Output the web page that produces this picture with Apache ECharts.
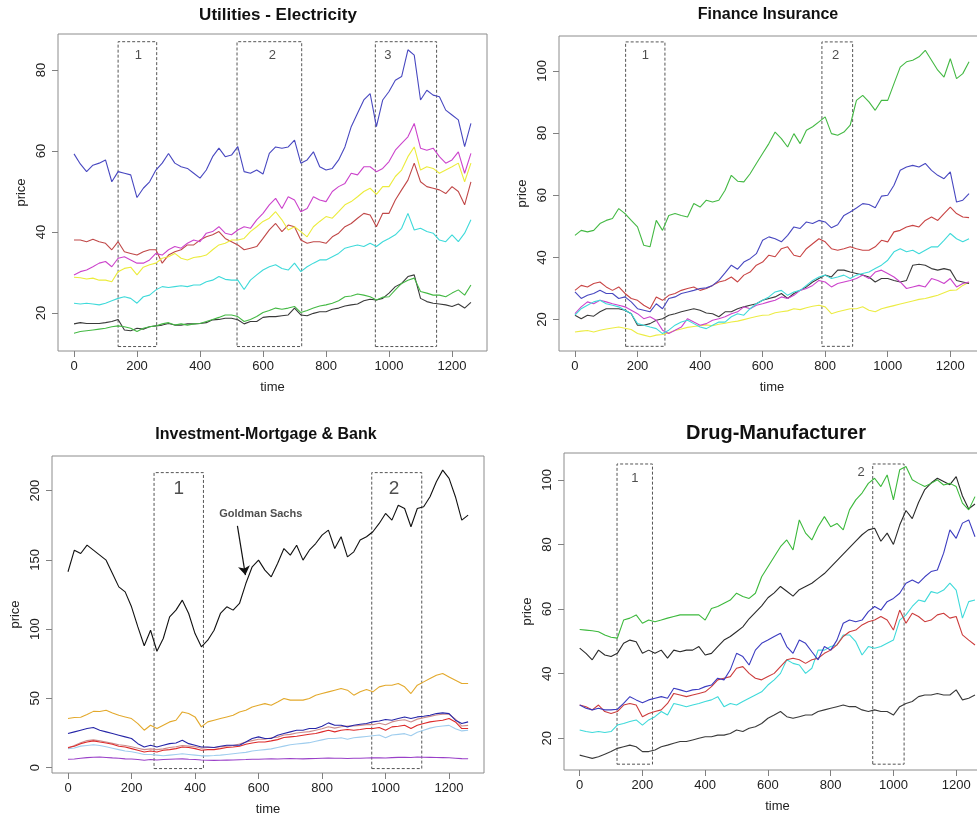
<!DOCTYPE html>
<html>
<head>
<meta charset="utf-8">
<script src="https://cdn.jsdelivr.net/npm/echarts/dist/echarts.min.js"></script>
<style>
html, body { margin: 0; padding: 0; background: #fff; }
#chart { width: 977px; height: 818px; }
</style>
</head>
<body>
<div id="chart"></div>
<script>
// Trading-day index (sampled every 20 days)
const time = [0,20,40,60,80,100,120,140,160,180,200,220,240,260,280,300,320,340,360,380,400,420,440,460,480,500,520,540,560,580,600,620,640,660,680,700,720,740,760,780,800,820,840,860,880,900,920,940,960,980,1000,1020,1040,1060,1080,1100,1120,1140,1160,1180,1200,1220,1240,1260];

const timeTicks = [0, 200, 400, 600, 800, 1000, 1200];

// ---- Utilities - Electricity ----
const utilTicks = [20, 40, 60, 80];
const utilBlue = [59.3,56.8,54.9,56.5,57,57.8,52.4,54.9,54.5,54.1,48.5,50.8,52.4,55.3,57,59.4,57,56.1,55.7,54.5,53.3,55.3,58.6,60.7,58.6,59,61.1,54.9,54.5,55.3,54.3,59.4,61,60.7,61,62.7,57,57.8,59.8,56.1,55.3,55.7,57.8,61,66,69.3,72.6,74.2,66,72.6,74.7,77.5,78.4,85,83.7,72.6,75,73.8,73.4,70.1,68.9,67.7,61.1,66.8];
const utilMagenta = [29.4,30.2,30.6,31.4,32.3,32.7,31.4,33.5,33.9,33.1,32.3,32.3,33.1,34.7,34.3,35.6,36.4,36,37.2,38,37.6,39.7,40.1,41.3,39.7,39.3,40.5,41.3,40.9,43,44.6,46.7,48.3,45.8,48.7,47.9,45,45.8,48.7,47.9,47.5,50,51.2,52,54.5,54.1,56.1,56.1,54.9,55.7,57.4,60.2,61.9,63.5,66.8,60.7,60.2,60.7,58.6,57,57.8,59.8,54.5,59.4];
const utilYellow = [28.8,28.7,28.4,28.6,28.1,28.1,27.7,30.2,31,31.3,29.4,31.3,31.9,32.3,33.5,33.9,34.7,33.5,33.1,33.7,33.9,34.3,35.6,36.8,37.2,38,38,38.4,40.1,41.3,42.6,43.4,45,43,40.5,41.3,40.1,38.8,41.3,42.6,43.8,43.4,45,46.7,47.5,48.7,50,50.8,49.3,51.2,51.2,53.7,55.3,58.6,61,55.3,56.1,55.7,54.5,55.3,56.1,57,52.4,57];
const utilRed = [38,38,37.6,38.2,37.6,37.2,35.6,37.6,35.1,34.7,34.3,35.1,35.6,35.6,32.3,34.3,35.1,35.6,36.8,36.8,38,38.8,39.3,40.1,38.4,37.6,36.8,35.6,36,36.4,38.4,40.5,42.1,40.1,41.7,41.3,38,37.2,37.6,37.6,37.2,38.8,39.7,41.3,42.1,43.4,44.6,44.2,41.3,44.6,44.6,47.9,50.4,52.8,57,52.4,51.2,50.8,50.4,49.5,51.2,50,46.7,52.4];
const utilCyan = [22.4,22.2,22.4,22.2,22,22.4,23,23.6,24,23.6,22.4,24,24.4,25.7,26.5,26.3,26.5,26.7,26.5,26.9,26.9,27.7,28.1,29,28.3,28.1,28.1,25.8,28.1,29.4,30.6,31.4,31.9,31,30.6,32.3,30.2,31.4,32.3,33.1,33.1,33.9,34.7,36,36.4,36.8,36.4,37.2,36.4,37.6,38.4,39.3,40.9,44.6,40.5,40.9,40.1,39.7,38,37.6,39.3,37.6,39.7,43];
const utilGreen = [15,15.4,15.6,15.8,16,16.2,16.6,16.8,16.6,16.2,15.4,16.2,16.6,16.8,17.3,17.6,17,17.3,17,17.3,17.4,17.9,18.4,18.9,19.5,19.5,19.1,17.9,18.4,19.1,20.1,20.6,21.2,20.9,21.2,21.6,20.1,20.6,21.2,21.7,22,22.4,23,24,24.2,24.7,24.4,24,23.2,23.9,24,25.7,27.3,28.1,28.6,25.3,24.9,24.4,24.4,24,24.9,25.7,24.4,26.9];
const utilBlack = [17.3,17.6,17.4,17.4,17.4,17.6,17.9,18.4,15.8,15.6,16.2,16,16.6,16.8,17,17.4,17,17,17.3,17.3,17.4,17.6,18.3,18.4,18.7,18.7,18.3,17.3,17.9,17.9,18.9,19.1,19.1,19.3,19.5,21.2,19.5,19.3,19.9,20.3,20.3,20.9,21.2,21.7,22,22.2,23,23.4,23.2,23.6,24.9,26.5,27.3,29,29.4,23.6,22.8,22.4,22.2,22,21.6,22.2,21.2,22.6];
const utilWindows = [[140, 11.7, 262.5, 87], [517.5, 11.7, 722.8, 87], [956.6, 11.7, 1151, 87]];
const utilWindowLabels = [[204, 83.7, '1'], [630, 83.7, '2'], [996, 83.7, '3']];

// ---- Finance Insurance ----
const finTicks = [20, 40, 60, 80, 100];
const finGreen = [47.1,48.7,48.2,48.7,50.9,51.9,52.5,55.7,54.1,51.9,49.8,43.9,43.4,51.9,48.7,53.5,54.1,53.5,53,57.3,56.2,58.4,57.8,58.4,61.6,66.4,64.5,64.3,66.9,70.2,73.4,76.6,80.3,78.2,75.5,79.8,76.6,80.9,82,83.6,85.2,79.8,79.3,80.3,82.5,90.5,92.1,90,87.3,90.5,90.5,95.9,101.2,102.9,103.4,104.5,106.6,103.4,100.2,98,103.9,97.5,99.1,102.9];
const finBlue = [28.9,26.8,27.8,28.4,29.4,28.4,28.4,26.8,27.3,25.7,23.5,23,22.5,25.1,23.5,26.8,27.3,28.4,28.9,29.4,30,30.2,31,32.6,35,37.5,36.2,38.5,39.6,41.2,45.5,46.6,46,45,47.1,49.8,49.3,51.4,50.9,51.9,51.4,49.5,50.5,53.5,54.6,55.9,57.3,57,56,59.7,60,63.2,68,69.1,69.6,69.1,70.2,68,66.4,65.3,67.5,57.8,58.4,60.5];
const finRed = [29.4,31,30.5,31.6,32.1,30.5,29.4,30.5,28.4,26.8,26.2,24.6,23.5,27.3,26.2,27.8,28.4,29.4,30,30.5,29.4,30,31,32.1,32.6,33.7,32.1,34.3,35.3,37.5,38.5,40.7,40.2,42.8,43.4,40.7,40.2,42.8,44.4,46,45,42.8,42.3,42.8,43.4,42.8,42.3,42.3,43.4,45.5,45,48.2,48.7,49.8,50.3,49.8,51.9,53,51.9,54.1,56.2,54.1,53,52.8];
const finCyan = [21.4,23.5,24.6,25.7,26.2,25.1,24.6,24.1,23,21.9,18.7,18.2,17.6,17.1,15.5,16.6,18.2,19.2,19.8,18.7,17.6,17.1,18.2,19.2,19.2,20.9,21.9,21.4,23.5,25.1,26.2,27.3,28.9,29.4,27.8,28.9,29.4,31,32.6,33.7,34.3,33.2,33.7,34.3,33.2,34.3,34.8,35.3,36.4,37.5,39.1,41.8,42.8,41.8,42.3,41.2,42.3,43.4,43.4,45.5,47.7,46,45,46];
const finBlack = [21.4,20.3,21.4,21.1,22.5,23.5,23.5,23.5,23,21.9,18.2,18.2,18.7,19.8,20.3,21.4,21.9,22.5,23,23.5,23,22.1,21.9,20.9,22.5,22.5,23.5,24.1,24.6,25.1,26.2,26.8,27.3,28.4,26.8,28.4,29.4,30.5,32.1,33.2,34.3,33.7,35.9,35.9,35.3,34.8,34.3,33.7,32.1,33.2,33.2,32.6,32.1,32.6,37.5,37.8,37.5,36.4,35.9,36.4,35.9,32.6,32.1,31.6];
const finMagenta = [21.9,24.1,25.7,25.1,26.2,25.7,25.1,24.6,24.1,23,21.9,20.3,20.9,19.8,16.6,15.5,16.6,17.6,20.3,19.2,18.2,18.7,19.8,20.3,20.9,21.9,22.5,24.1,23.5,24.6,25.1,25.7,26.2,27.3,26.8,27.8,29.4,30,31,32.6,32.1,30.5,31.6,32.1,32.6,33.2,34.3,33.2,35.3,35.9,34.8,33.7,32.1,30,30.5,31,30.5,33.2,32.6,31.6,33.2,30.5,31.6,32.1];
const finYellow = [16,16.3,16.5,16,16.6,17,17.3,17.6,17.2,16.8,15.5,15,14.5,15,15.2,15.8,16.5,17,17.5,17.8,18,18.3,18,18.5,18.8,19.2,19.5,20,20.5,21,21.4,21.5,22.2,22.5,22.8,23.5,23.2,23.8,24.3,24.6,24.1,21.9,22.5,23,23.5,23.5,24.1,23,22.5,23.5,24,24.5,25,25.5,26,26.5,26.8,27.3,27.8,28.6,29.4,29.5,31,32];
const finWindows = [[162, 11.4, 287.7, 109.3], [789.6, 11.4, 887.8, 109.3]];
const finWindowLabels = [[225, 105, '1'], [833.5, 105, '2']];

// ---- Investment-Mortgage & Bank ----
const invTicks = [0, 50, 100, 150, 200];
const invGoldman = [141.4,157,154.6,160.6,157,153.4,149.8,140.2,130.5,126.9,116.1,101.6,88,99.2,84,93.2,108.9,113.7,120.9,111.3,96.8,87.2,92,99.2,111.3,116.1,113.7,118.5,132.9,145,149.8,142.6,137.8,147.4,158.2,153.4,160.6,149.8,157,161.8,167.9,171.5,158.2,166.7,152.2,155.8,164.3,166.7,170.3,176.3,183.5,178.7,189.5,187.1,173.9,187.1,188.3,195.6,206.4,214.8,208.8,195.6,178.7,182.3];
const invOrange = [35.5,36.2,36.4,38.4,40.6,40.5,41.4,39.5,37.8,36.6,35.4,31.8,27,30.6,28.2,30.6,33,34.2,40.2,39,36.6,29.4,33,34.2,35.4,36.6,37.8,40.2,41.4,43.8,45,46.2,45,47.4,49.9,48.7,48.7,48.7,49.9,52.3,53.5,54.7,55.9,57.1,55.9,52.3,54.7,56.4,54.7,58.3,59.5,59.5,60.7,58.3,53.5,59.5,61.9,64.3,66.7,67.9,65.5,63.1,60.7,60.7];
const invNavy = [24.6,25.8,27,28.2,28.9,27,25.8,24.6,23.4,22.2,21,17.3,14.9,16.1,14.9,16.1,17.3,17.8,19.7,17.3,16.1,14.9,14.9,14.5,15.4,16.1,16.1,16.1,18.5,21,22.2,21,21,23.4,24.6,25.8,27,27,28.2,28.2,29.9,32.3,30.6,30.6,29.4,30.6,31.3,31.8,33,33.7,34.7,34.2,35.4,36.6,35.4,36.6,37.1,37.8,39,39.5,39,34.2,31.8,33];
const invRosy = [14,16,18,19.5,20,19.3,18.5,17.5,16.5,16,15,14,13,13.5,13,13.5,14.5,15,16,15.5,15,14,14.5,14.5,15,15.5,16,17,18.5,19.5,20.5,20.5,21.5,22,23.5,24,25,25.5,26,27,28,29.5,28.5,29.5,30,30,30.5,31,31,32,31,33,34,34.5,33,35,36,37,38,38.5,38.5,35,30,30.5];
const invRed = [14.5,15.4,17.3,18.5,19.3,18.5,17.8,16.9,15.4,14.9,13.7,12.5,11.3,12,11.3,12.5,13,13.7,14.9,14.5,13.7,12.5,13,13,13.7,14.5,14.9,15.4,16.9,17.8,18.5,18.5,19.3,20.2,21.7,22.2,22.6,23.4,24.1,24.6,25.8,27,25.8,27,27.5,27,27.5,28.2,28.2,28.9,27,29.4,29.9,30.6,28.2,30.6,31.8,33,33.7,34.2,35.4,33,28.2,28.2];
const invLightBlue = [13.7,14.2,15.5,16,16.5,16,15,14,13,12,11.5,10.5,9.5,9.5,9,8.5,9,9.5,10,9.5,9,8.5,8.5,8.7,9,9.5,10,10.5,11,12,12.5,13,13.5,14.5,15.5,16.5,17,17.5,18,19,20,21,21,21.5,20.5,21.5,22,22.5,23,23.5,21.5,23.5,24,24.5,23,25.5,27,28.5,29.5,30,30.5,28,26.5,27];
const invPurple = [6,6.2,6.8,7.2,7.5,7.6,7.3,7,6.8,6.3,6.2,5.8,5.3,5.8,5.5,5.8,6,6.2,6.3,6,5.8,5.5,5.3,5.2,5.3,5.4,5.5,5.7,5.8,6,6,6.2,6.3,6.2,6.4,6.5,6.4,6.3,6.5,6.6,6.8,6.9,6.8,6.8,6.6,6.8,6.8,6.9,7,7.1,6.9,7.2,7.4,7.5,7.3,7.6,7.5,7.4,7.3,7.2,7.1,6.8,6.5,6.4];
const invWindows = [[271, -0.7, 426.5, 213], [956.5, -0.7, 1114, 213]];
const invWindowLabels = [[348.7, 201, '1'], [1027, 201, '2']];
const goldmanNote = { text: 'Goldman Sachs', at: [607, 183], arrowFrom: [533.5, 174.5], arrowTo: [558.7, 139] };

// ---- Drug-Manufacturer ----
const drugTicks = [20, 40, 60, 80, 100];
const drugGreen = [53.7,53.5,53.3,53,52,51.3,51,56.6,57.2,58.2,55.6,56.6,56.1,56.6,57.2,57.7,58.2,58.2,58.2,58.2,56.6,60.2,60.8,61.8,62.8,64.9,63.9,63.3,64.9,70,73.1,76.2,79.3,81.4,78.3,87.6,83.5,81.4,85.5,88.6,85.5,86.5,84.5,90.7,93.8,95.9,98.9,100.5,97.9,101.5,93.8,103.1,104.1,100,98.9,97.9,98.9,100,98.4,98.9,97.9,92.8,90.7,94.8];
const drugBlackHigh = [47.9,46.3,44.3,47.3,45.8,45.3,46.3,49.4,50.4,49.9,46.3,47.3,46.3,47.3,44.8,47.3,46.8,47.3,47.3,48.4,45.8,46.3,48.4,50.4,51.5,53,54.5,57,59,61,63.5,65,67,65.5,64,66,67,68,69.5,71,73,75,77,79,81,83,84.5,85,81,83.5,80,86,90.5,88,93,97,99,100.5,99.5,98.5,101,95,91,92.5];
const drugBlue = [30.3,29.3,28.8,29.3,28.8,28.8,29,30.8,32.9,31.9,31,31.9,32.4,32.9,32.4,35.5,35,34.4,35,35.2,36,36.5,38.6,38.1,41.2,46.3,45.3,42.7,47.3,49.4,50.4,51.5,52.5,48.4,46.3,50.4,49.4,46.8,44.3,48.4,47.3,50.4,55.6,56.6,56.1,56.6,59.2,60.8,59.7,62.3,63.3,64.9,68,69,68,70,71.6,72.1,77.3,84.5,81.9,86.6,87.6,82.4];
const drugRed = [30.3,29.8,28.8,30.3,28.3,27.7,28.3,30.3,30.8,30.3,26.7,27.7,28.3,28.8,30.8,33.9,33.4,32.9,33.4,33.9,34.4,36,38.1,38.6,39.1,41.7,42.2,40.1,38.6,38.1,39.1,40.1,42.2,44.3,44.8,44.3,43.2,44.3,44.8,46.3,47.3,48.9,51.5,53,53.5,55.1,56.1,56.6,57.7,56.6,53.5,59.7,55.6,58.7,57.7,56.1,56.6,58.2,58.7,57.2,57.7,52,50.4,48.9];
const drugCyan = [22.6,22.1,21.8,22.1,21.8,22.1,24.1,24.6,25.2,25.7,24.1,25.7,26.7,28.3,27.2,30.8,30.3,29.8,30.3,30.8,31.4,31.9,32.9,29.8,30.8,30.3,31.4,32.4,33.4,34.4,36.5,38.1,40.1,44.3,43.2,42.7,40.1,41.7,47.3,47.3,48.4,48.9,52,52,49.9,45.8,48.4,47.9,48.4,49.4,50.4,56.6,58.2,60.8,62.8,62.3,65.4,64.9,65.9,68,65.9,57.2,62.3,62.8];
const drugBlackLow = [14.8,14.3,13.8,14.3,15.1,15.9,16.9,17.4,17.9,17.4,15.9,15.9,16.4,17.4,17.9,18.5,19,19,19.5,20,20.5,20.5,21,21,21.5,22.6,22.1,23.1,23.6,24.6,26.2,27.2,28.3,26.7,26.2,26.7,27.2,27.2,28.3,28.8,29.3,29.8,30.3,29.8,29.8,28.8,28.3,28.8,28.3,28.3,27.2,29.8,30.8,31.4,32.9,33.4,33.4,33.9,33.4,33.4,35,31.9,32.4,33.4];
const drugWindows = [[119, 12, 232, 104.9], [934, 12, 1034, 104.9]];
const drugWindowLabels = [[175.5, 100.3, '1'], [897, 102.3, '2']];

// ---- layout and styling ----
const FONT = '"Liberation Sans", Arial, Helvetica, sans-serif';
const panels = [
  {
    title: 'Utilities - Electricity', titleAt: [278, 15], titleSize: 17,
    grid: { left: 58, top: 34, width: 429, height: 317 },
    xRange: [-50.8, 1311], yRange: [10.6, 88.9], yTicks: utilTicks,
    lines: [
      [utilBlack, '#3a3a3a'], [utilGreen, '#44b944'], [utilCyan, '#3fdada'],
      [utilRed, '#c04848'], [utilYellow, '#ecec3c'], [utilMagenta, '#cc44cc'], [utilBlue, '#4848c0']
    ],
    windows: utilWindows, windowLabels: utilWindowLabels, labelSize: 13
  },
  {
    title: 'Finance Insurance', titleAt: [768, 15], titleSize: 16,
    grid: { left: 559, top: 36, width: 426, height: 315 },
    xRange: [-51, 1311], yRange: [9.9, 111.2], yTicks: finTicks,
    lines: [
      [finYellow, '#ecec44'], [finBlack, '#3a3a3a'], [finMagenta, '#cc44cc'], [finCyan, '#3fdada'],
      [finRed, '#c84444'], [finBlue, '#4848c0'], [finGreen, '#44b944']
    ],
    windows: finWindows, windowLabels: finWindowLabels, labelSize: 13
  },
  {
    title: 'Investment-Mortgage & Bank', titleAt: [266, 435], titleSize: 16,
    grid: { left: 52, top: 456, width: 432, height: 317 },
    xRange: [-50.4, 1310], yRange: [-3.9, 225], yTicks: invTicks,
    lines: [
      [invPurple, '#9a40c8'], [invLightBlue, '#9fcdee'], [invRosy, '#cc8c8c'], [invRed, '#dd2a2a'],
      [invNavy, '#2626a8'], [invOrange, '#e3a92c'], [invGoldman, '#111111']
    ],
    windows: invWindows, windowLabels: invWindowLabels, labelSize: 19
  },
  {
    title: 'Drug-Manufacturer', titleAt: [776, 433], titleSize: 20,
    grid: { left: 564, top: 453, width: 427, height: 317 },
    xRange: [-50, 1311], yRange: [10.2, 108.3], yTicks: drugTicks,
    lines: [
      [drugBlackLow, '#3a3a3a'], [drugCyan, '#3fdada'], [drugRed, '#cc3c3c'],
      [drugBlue, '#3c3cc0'], [drugBlackHigh, '#2a2a2a'], [drugGreen, '#3cb93c']
    ],
    windows: drugWindows, windowLabels: drugWindowLabels, labelSize: 13
  }
];

const grids = [], xAxes = [], yAxes = [], series = [], graphics = [];
const plain = v => String(v);

panels.forEach((p, i) => {
  // plots on the right run past the canvas edge, so the grid must not be squeezed to fit
  grids.push(Object.assign({
    show: true, borderColor: '#8c8c8c', borderWidth: 1, backgroundColor: 'transparent',
    containLabel: false, outerBoundsMode: 'none'
  }, p.grid));

  xAxes.push({
    type: 'value', gridIndex: i, min: p.xRange[0], max: p.xRange[1],
    axisLine: { show: false, onZero: false }, splitLine: { show: false },
    axisTick: { show: true, length: 6, lineStyle: { color: '#808080' }, customValues: timeTicks },
    axisLabel: { customValues: timeTicks, formatter: plain, fontSize: 13, color: '#222', margin: 9, fontFamily: FONT },
    name: 'time', nameLocation: 'middle', nameGap: 30,
    nameTextStyle: { fontSize: 13, color: '#222', fontFamily: FONT }
  });

  yAxes.push({
    type: 'value', gridIndex: i, min: p.yRange[0], max: p.yRange[1],
    axisLine: { show: false, onZero: false }, splitLine: { show: false },
    axisTick: { show: true, length: 6, lineStyle: { color: '#808080' }, customValues: p.yTicks },
    axisLabel: { customValues: p.yTicks, formatter: plain, fontSize: 13, color: '#222', margin: 10, rotate: 90, fontFamily: FONT },
    name: 'price', nameLocation: 'middle', nameGap: 30, nameRotate: 90,
    nameTextStyle: { fontSize: 13, color: '#222', fontFamily: FONT }
  });

  p.lines.forEach(([values, color], k) => {
    const s = {
      type: 'line', xAxisIndex: i, yAxisIndex: i,
      data: time.map((t, j) => [t, values[j]]),
      showSymbol: false, symbol: 'none', silent: true,
      lineStyle: { width: 1.1, color: color }, itemStyle: { color: color },
      z: 3 + k
    };
    if (k === 0) {
      s.markArea = {
        silent: true,
        itemStyle: { color: 'rgba(0,0,0,0)', borderColor: '#555', borderWidth: 1, borderType: [3, 2] },
        label: { show: false },
        data: p.windows.map(w => [{ xAxis: w[0], yAxis: w[1] }, { xAxis: w[2], yAxis: w[3] }])
      };
    }
    series.push(s);
  });

  // window numbers
  series.push({
    type: 'scatter', xAxisIndex: i, yAxisIndex: i, silent: true,
    symbolSize: 0, data: p.windowLabels, z: 20,
    label: {
      show: true, position: 'inside', formatter: d => d.data[2],
      fontSize: p.labelSize, color: '#222', fontFamily: FONT
    }
  });

  graphics.push({
    type: 'text', x: p.titleAt[0], y: p.titleAt[1], silent: true,
    style: {
      text: p.title, fill: '#111', font: 'bold ' + p.titleSize + 'px ' + FONT,
      align: 'center', verticalAlign: 'middle', textAlign: 'center', textVerticalAlign: 'middle'
    }
  });
});

// Goldman Sachs call-out with arrow (panel 3)
series.push({
  type: 'scatter', xAxisIndex: 2, yAxisIndex: 2, silent: true, symbolSize: 0,
  data: [[goldmanNote.at[0], goldmanNote.at[1], goldmanNote.text]], z: 20,
  label: { show: true, position: 'inside', formatter: d => d.data[2], fontSize: 11, fontWeight: 'bold', color: '#222', fontFamily: FONT },
  markLine: {
    silent: true, symbol: ['none', 'arrow'], symbolSize: 9,
    lineStyle: { color: '#111', width: 1.2, type: 'solid' },
    label: { show: false },
    data: [[{ coord: goldmanNote.arrowFrom }, { coord: goldmanNote.arrowTo }]]
  }
});

const chart = echarts.init(document.getElementById('chart'), null, { renderer: 'canvas' });
chart.setOption({
  animation: false,
  backgroundColor: '#fff',
  grid: grids, xAxis: xAxes, yAxis: yAxes,
  series: series, graphic: graphics
});
</script>
</body>
</html>
